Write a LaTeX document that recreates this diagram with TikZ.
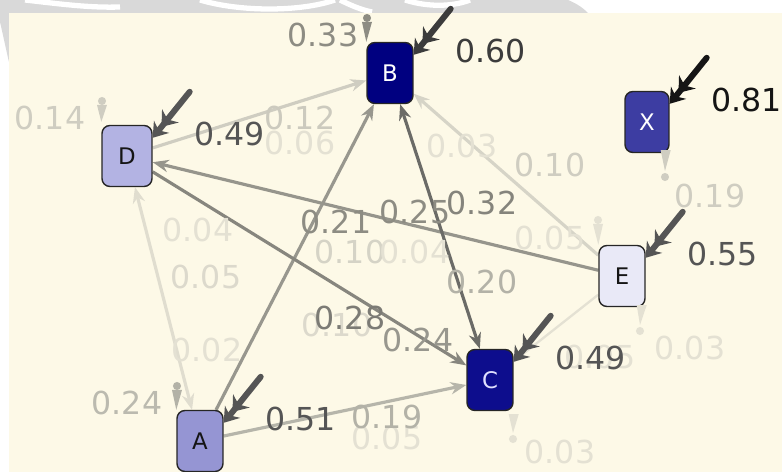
\documentclass[tikz,border=0pt]{standalone}
\usepackage{fontspec}
\setmainfont{DejaVu Sans}
\usetikzlibrary{arrows.meta, calc, positioning, backgrounds}

\definecolor{creme}{HTML}{FDF9E7}
\definecolor{filigrane}{HTML}{D9D9D9}
\definecolor{bleuA}{HTML}{9595D3}
\definecolor{bleuB}{HTML}{000080}
\definecolor{bleuC}{HTML}{0D0D8D}
\definecolor{bleuD}{HTML}{B3B3E3}
\definecolor{bleuE}{HTML}{E9E9F7}
\definecolor{bleuX}{HTML}{3D3DA2}
\definecolor{gnoir}{HTML}{151515}
\definecolor{gfonce}{HTML}{3C3C3C}
\definecolor{gsombre}{HTML}{555555}
\definecolor{gmoyen}{HTML}{8D8C83}
\definecolor{gclair}{HTML}{B3B2A7}
\definecolor{gpale}{HTML}{CFCDC1}
\definecolor{gtrespale}{HTML}{E4E1D3}

\tikzset{
    etat/.style={draw=black!85, line width=0.8pt, rounded corners=4.5pt,
        minimum width=0.92cm, minimum height=1.22cm, inner sep=0pt,
        font=\fontsize{13}{13}\selectfont},
    valeur/.style={font=\fontsize{18}{18}\selectfont, inner sep=0pt},
    lien/.style={line width=1.8pt},
    fl/.style={-{Stealth[length=9pt,width=7pt]}},
    fl2/.style={{Stealth[length=9pt,width=7pt]}-{Stealth[length=9pt,width=7pt]}},
}

\NewDocumentCommand{\autoeffet}{%
    O{gsombre}  % colour of arrow and value
    m           % node
    m           % value
    }{%
    \coordinate (#2q) at ($(#2.north east)+(37,-33)$);
    \coordinate (#2p) at ($(#2.north east)+(0,13)$);
    \draw[#1, line width=3.4pt, line cap=round,
        -{Stealth[length=8pt,width=12pt]Stealth[length=8pt,width=11pt]}]
        (#2q) -- (#2p);
    \node[valeur, text=#1, anchor=west] (#2v) at ($(#2.north east)+(41,9)$) {#3};
}

\NewDocumentCommand{\goutte}{%
    O{gclair}   % colour
    m           % wide end
    m           % tip
    m           % dot
    }{%
    \fill[#1] ($(#2)+(-5,0)$) -- ($(#2)+(5,0)$) -- (#3) -- cycle;
    \fill[#1] (#4) circle[radius=2.3pt];
}

\begin{document}
\begin{tikzpicture}[x=0.02cm, y=-0.02cm]
    \useasboundingbox (0,0) rectangle (782,472);

    \node[etat, fill=bleuA, text=gnoir] (A) at (200,441) {A};
    \node[etat, fill=bleuB, text=white] (B) at (390,73) {B};
    \node[etat, fill=bleuC, text=white!88!blue] (C) at (490,380) {C};
    \node[etat, fill=bleuD, text=gnoir, minimum width=1cm] (D) at (127,156) {D};
    \node[etat, fill=bleuE, text=gnoir] (E) at (622,276) {E};
    \node[etat, fill=bleuX, text=white, minimum width=0.88cm] (X) at (647,122) {X};

    \begin{scope}[on background layer]
    \fill[white] (0,0) rectangle (782,472);
    \fill[filigrane] (0,0) -- (568,0) .. controls (578,4) and (584,9) .. (588,13)
        -- (9,13) -- (9,62) .. controls (5,45) and (2,30) .. (0,22) -- cycle;
    \draw[white, line width=3pt] (25,0) .. controls (60,4) and (90,8) .. (120,7);
    \draw[white, line width=3pt] (200,0) .. controls (240,12) and (300,12) .. (335,0);
    \draw[white, line width=3pt] (340,0) .. controls (352,6) and (362,10) .. (372,12);
    \draw[white, line width=3pt] (405,0) .. controls (430,8) and (455,6) .. (470,0);
    \fill[creme] (9,13) rectangle (782,472);

    % links
    \draw[lien, fl2, gtrespale!80!gpale] (D) -- (A);
    \draw[lien, gtrespale, line width=1.3pt] (E) -- (C);
    \draw[lien, fl, gpale!85!creme] (E) -- (B);
    \draw[lien, fl, gpale] (D) -- (B);
    \draw[lien, fl, gclair!90!gpale] (A) -- (C);
    \draw[lien, fl, gmoyen!70!gclair] (A) -- (B);
    \draw[lien, fl, gmoyen!75!gclair] (E) -- (D);
    \draw[lien, fl, gmoyen!90!gsombre] (D) -- (C);
    \draw[lien, fl2, gmoyen!40!gsombre] (B) -- (C);
    \end{scope}

    % small drops on the nodes
    \coordinate (Bd) at (367,18);
    \coordinate (Dd) at (102,101);
    \coordinate (Ad) at (177,386);
    \coordinate (Ed) at (598,220);
    \coordinate (Xd) at (665,177);
    \coordinate (Ef) at (640,331);
    \coordinate (Cd) at (513,439);
    \goutte[gmoyen]{$(Bd)+(0,4)$}{B.north west}{Bd}
    \goutte[gpale]{$(Dd)+(0,4)$}{$(D.north west)+(0,-3)$}{Dd}
    \goutte[gclair]{$(Ad)+(0,4)$}{A.north west}{Ad}
    \goutte[gtrespale]{$(Ed)+(0,4)$}{E.north west}{Ed}
    \goutte[gpale]{$(X.south east)+(-4,-3)$}{$(Xd)+(0,-6)$}{Xd}
    \goutte[gtrespale]{$(E.south east)+(-4,-2)$}{$(Ef)+(0,-6)$}{Ef}
    \goutte[gtrespale]{$(C.south east)+(0,3)$}{$(Cd)+(0,-6)$}{Cd}

    % faint values
    \node[valeur, text=gtrespale] (p06) at (300,143) {0.06};
    \node[valeur, text=gtrespale] (p03a) at (462,146) {0.03};
    \node[valeur, text=gtrespale] (p04a) at (198,230) {0.04};
    \node[valeur, text=gtrespale!60!gpale] (p05a) at (206,277) {0.05};
    \node[valeur, text=gpale!70!gtrespale] (p10b) at (350,252) {0.10};
    \node[valeur, text=gtrespale] (p04b) at (415,252) {0.04};
    \node[valeur, text=gtrespale] (p05b) at (550,238) {0.05};
    \node[valeur, text=gtrespale!60!gpale] (p10c) at (337,325) {0.10};
    \node[valeur, text=gtrespale] (p02) at (207,350) {0.02};
    \node[valeur, text=gtrespale] (p05c) at (387,438) {0.05};
    \node[valeur, text=gtrespale] (p05d) at (600,357) {0.05};
    \node[valeur, text=gtrespale] (p03b) at (690,348) {0.03};
    \node[valeur, text=gtrespale] (p03c) at (560,452) {0.03};

    % values on the links
    \node[valeur, text=gmoyen] (p33) at (323,35) {0.33};
    \node[valeur, text=gpale] (p14) at (50,118) {0.14};
    \node[valeur, text=gpale!90!gclair] (p12) at (300,118) {0.12};
    \node[valeur, text=gpale] (p10a) at (550,165) {0.10};
    \node[valeur, text=gpale] (p19x) at (710,196) {0.19};
    \node[valeur, text=gmoyen] (p21) at (336,222) {0.21};
    \node[valeur, text=gmoyen] (p25) at (415,212) {0.25};
    \node[valeur, text=gmoyen!85!gsombre] (p32) at (482,203) {0.32};
    \node[valeur, text=gclair] (p20) at (482,282) {0.20};
    \node[valeur, text=gmoyen!70!gsombre] (p28) at (350,318) {0.28};
    \node[valeur, text=gmoyen!70!gclair] (p24c) at (418,340) {0.24};
    \node[valeur, text=gclair!70!gpale] (p24a) at (127,403) {0.24};
    \node[valeur, text=gclair] (p19a) at (387,417) {0.19};

    \autoeffet[gfonce]{B}{0.60}
    \autoeffet{D}{0.49}
    \autoeffet[gnoir]{X}{0.81}
    \autoeffet{E}{0.55}
    \autoeffet{C}{0.49}
    \autoeffet{A}{0.51}
\end{tikzpicture}
\end{document}
